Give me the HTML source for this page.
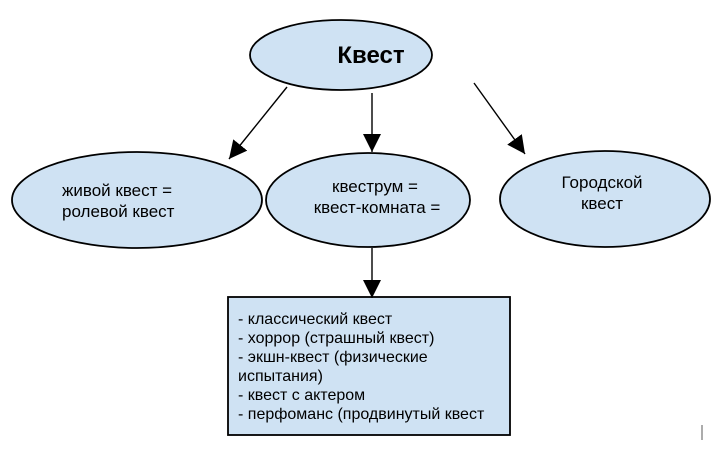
<!DOCTYPE html>
<html><head><meta charset="utf-8"><style>
body{margin:0;background:#fff;width:720px;height:451px;overflow:hidden}
svg text{font-family:"Liberation Sans",Arial,sans-serif;fill:#000}
</style></head><body>
<svg width="720" height="451" viewBox="0 0 720 451" xmlns="http://www.w3.org/2000/svg">
<defs><marker id="a" markerWidth="18" markerHeight="18" refX="16" refY="8" orient="auto" markerUnits="userSpaceOnUse" viewBox="0 0 16 16"><path d="M0,0 L16,8 L0,16z" fill="#000"/></marker></defs>
<g fill="#cfe2f3" stroke="#000" stroke-width="1.8">
<ellipse cx="341" cy="55" rx="91" ry="35"/>
<ellipse cx="137" cy="200" rx="125" ry="48"/>
<ellipse cx="368" cy="200" rx="102" ry="47"/>
<ellipse cx="605" cy="199" rx="105" ry="48"/>
<rect x="228" y="297" width="282" height="138"/>
</g>
<g stroke="#000" stroke-width="1.4" fill="none">
<line x1="287" y1="87" x2="229" y2="159" marker-end="url(#a)"/>
<line x1="372" y1="93" x2="372" y2="152" marker-end="url(#a)"/>
<line x1="474" y1="83" x2="525" y2="154" marker-end="url(#a)"/>
<line x1="372" y1="248" x2="372" y2="298" marker-end="url(#a)"/>
<line x1="702" y1="425" x2="702" y2="440" stroke="#888"/>
</g>
<text x="371" y="63" font-size="24" font-weight="bold" text-anchor="middle">Квест</text>
<g font-size="17">
<text x="62" y="196">живой квест =</text>
<text x="62" y="217">ролевой квест</text>
<text x="375" y="192" text-anchor="middle">квеструм =</text>
<text x="377" y="213" text-anchor="middle">квест-комната =</text>
<text x="602" y="188" text-anchor="middle">Городской</text>
<text x="602" y="209" text-anchor="middle">квест</text>
</g>
<g font-size="16">
<text x="238" y="324">- классический квест</text>
<text x="238" y="343">- хоррор (страшный квест)</text>
<text x="238" y="362">- экшн-квест (физические</text>
<text x="238" y="381">испытания)</text>
<text x="238" y="400">- квест с актером</text>
<text x="238" y="419">- перфоманс (продвинутый квест</text>
</g>
</svg>
</body></html>
